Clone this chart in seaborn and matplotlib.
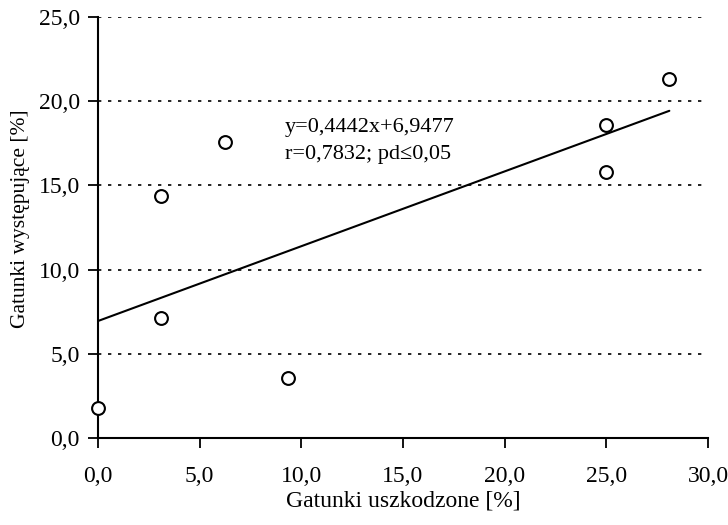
import matplotlib
matplotlib.use("Agg")
import matplotlib.pyplot as plt
import seaborn as sns
import numpy as np
import pandas as pd

# data
damaged = [0.0, 3.1, 3.1, 6.25, 9.35, 25.0, 25.0, 28.1]
occurring = [1.8, 14.4, 7.1, 17.6, 3.55, 18.6, 15.8, 21.3]
slope = 0.4442
intercept = 6.9477
x_ticks = [0, 5, 10, 15, 20, 25, 30]
y_ticks = [0, 5, 10, 15, 20, 25]
x_label = "Gatunki uszkodzone [%]"
y_label = "Gatunki występujące [%]"
eq_text = "y=0,4442x+6,9477\nr=0,7832; pd≤0,05"

sns.set_theme(style="white")
plt.rcParams['font.family'] = ['Liberation Serif', 'DejaVu Serif']

fig = plt.figure(figsize=(7.28, 5.25), dpi=100)
ax = fig.add_axes([0.1346, 0.1657, 0.9725 - 0.1346, 0.9676 - 0.1657])

df = pd.DataFrame({"x": damaged, "y": occurring})
line_x = [min(damaged), max(damaged)]
line_df = pd.DataFrame({"x": line_x, "y": [slope * v + intercept for v in line_x]})

for yt in y_ticks[1:]:
    ax.axhline(yt, color="black", lw=1.2, ls=(0, (2, 4)), zorder=0)

sns.lineplot(data=line_df, x="x", y="y", ax=ax, color="black", lw=1.5, zorder=2)
sns.scatterplot(data=df, x="x", y="y", ax=ax, marker="o", s=85,
                facecolor="white", edgecolor="black", linewidth=1.5, zorder=3,
                clip_on=False)

ax.set_xlim(0, 30)
ax.set_ylim(0, 25)
ax.set_xticks(x_ticks)
ax.set_yticks(y_ticks)
ax.set_xticklabels([f"{v:.1f}".replace(".", ",") for v in x_ticks])
ax.set_yticklabels([f"{v:.1f}".replace(".", ",") for v in y_ticks])
ax.tick_params(axis="both", direction="out", length=7, width=1.3, color="black",
               labelsize=17, labelcolor="black", bottom=True, left=True)
ax.tick_params(axis="x", pad=13)
ax.tick_params(axis="y", pad=6)

for s in ["top", "right"]:
    ax.spines[s].set_visible(False)
for s in ["left", "bottom"]:
    ax.spines[s].set_color("black")
    ax.spines[s].set_linewidth(1.5)

ax.set_xlabel(x_label, fontsize=17, color="black", labelpad=3)
ax.set_ylabel(y_label, fontsize=15.5, color="black")
ax.yaxis.set_label_coords(-0.112, 0.52)

ax.text(9.2, 17.64, eq_text, fontsize=16, color="black", ha="left", va="center",
        linespacing=1.6)

fig.savefig("out.png", dpi=100)
